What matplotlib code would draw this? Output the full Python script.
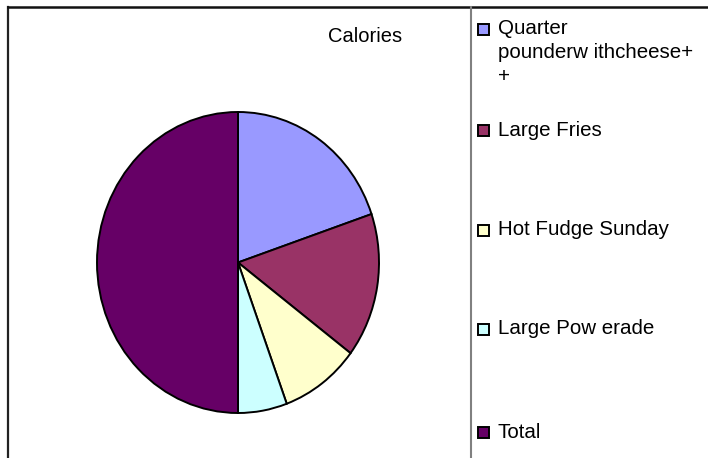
import matplotlib.pyplot as plt
from matplotlib.patches import Rectangle
from matplotlib.lines import Line2D

labels = ['Quarter\npounderw ithcheese+\n+', 'Large Fries', 'Hot Fudge Sunday',
          'Large Pow erade', 'Total']
calories = [740, 580, 340, 210, 1870]
colors = ['#9999FF', '#993366', '#FFFFCC', '#CCFFFF', '#660066']

W, H = 708, 458
plt.rcParams['font.family'] = ['Liberation Sans', 'DejaVu Sans']

fig = plt.figure(figsize=(W / 100, H / 100), dpi=100)


def fx(px):
  return px / W


def fy(py):
  return 1 - py / H


# pie is a bit squeezed sideways, as in the pasted original
cx, cy, rx, ry = 238, 262.5, 141, 150.5
ax = fig.add_axes([fx(cx - rx), fy(cy + ry), 2 * rx / W, 2 * ry / H])
wedges, _ = ax.pie(calories, colors=colors, startangle=90, counterclock=False,
                   wedgeprops=dict(edgecolor='black', linewidth=1.4))
for w in wedges:
  w.set_clip_on(False)
ax.set_aspect('auto')
ax.set_xlim(-1, 1)
ax.set_ylim(-1, 1)
ax.axis('off')

# chart frame
fig.add_artist(Line2D([fx(8), fx(8)], [0, fy(7)], transform=fig.transFigure,
                      color='#222222', lw=1.6))
fig.add_artist(Line2D([fx(8), 1], [fy(7), fy(7)], transform=fig.transFigure,
                      color='#111111', lw=1.8))
# legend box edge
fig.add_artist(Line2D([fx(471), fx(471)], [0, fy(7)], transform=fig.transFigure,
                      color='#808080', lw=1.5))

fig.text(fx(365), fy(36), 'Calories', ha='center', va='center', fontsize=14.5)

# legend
entry_y = [29, 130, 230, 329, 432]
for lab, col, y in zip(labels, colors, entry_y):
  fig.add_artist(Rectangle((fx(478), fy(y + 6)), 11 / W, 11 / H,
                           transform=fig.transFigure, facecolor=col,
                           edgecolor='black', lw=1.4))
  for i, line in enumerate(lab.split('\n')):
    fig.text(fx(498), fy(y + i * 23.5), line, ha='left', va='center',
             fontsize=14.8)

fig.savefig('out.png', dpi=100)
